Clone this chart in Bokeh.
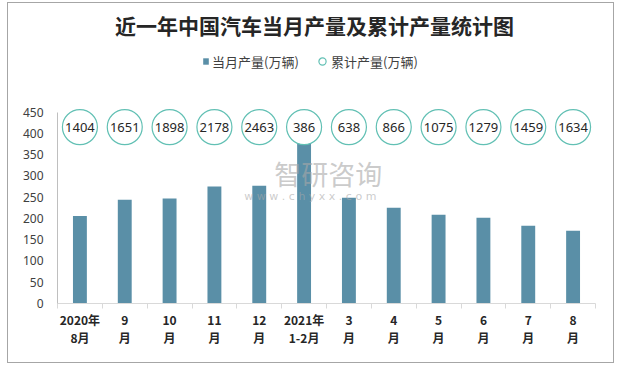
from bokeh.plotting import figure
from bokeh.models import (Range1d, FixedTicker, Legend, LegendItem, Label, ColumnDataSource)
from bokeh.core.properties import value
from bokeh.embed import file_html
from bokeh.resources import INLINE

# ---- data ----
months = ["2020年\n8月", "9\n月", "10\n月", "11\n月", "12\n月", "2021年\n1-2月",
          "3\n月", "4\n月", "5\n月", "6\n月", "7\n月", "8\n月"]
monthly = [206, 244, 247, 275, 277, 386, 249, 225, 209, 202, 183, 171]
cumulative = [1404, 1651, 1898, 2178, 2463, 386, 638, 866, 1075, 1279, 1459, 1634]
y_ticks = [0, 50, 100, 150, 200, 250, 300, 350, 400, 450]

# ---- styles ----
BAR = "#5a8fa7"
RING = "#62c0b4"
LABEL_Y = 415      # vertical position of the cumulative bubbles (axis units)
Y_MAX = 450        # top of the value axis
Y_VIEW = 705.8     # top of the drawing area (room for title/legend)
CJK = "Noto Sans CJK SC"

idx = list(range(len(months)))
src = ColumnDataSource(dict(x=idx, top=monthly, cum=[str(c) for c in cumulative],
                            ly=[LABEL_Y] * len(idx)))

p = figure(width=605, height=359, output_backend="svg", toolbar_location=None,
           x_range=Range1d(-0.5, len(months) - 0.5), y_range=Range1d(0, Y_VIEW),
           min_border_left=49, min_border_right=20, min_border_bottom=61, min_border_top=0)
p.styles = {"border": "1px solid #a6a6a6", "box-sizing": "content-box",
            "margin-left": "7px", "margin-top": "2px"}
p.outline_line_color = None
p.background_fill_color = "white"
p.border_fill_color = "white"
p.grid.visible = False

# title
p.add_layout(Label(x=5.23, y=656, text="近一年中国汽车当月产量及累计产量统计图", text_font=CJK,
                   text_font_size="21px", text_font_style="bold", text_color="#262626",
                   text_align="center", text_baseline="middle"))

# watermark
p.add_layout(Label(x=5.54, y=306, text="智研咨询", text_font=CJK, text_font_size="27px",
                   text_color="#a8a8a8", text_alpha=0.6, text_align="center", text_baseline="middle"))
p.add_layout(Label(x=5.14, y=251, text="w w w . c h y x x . c o m", text_font="DejaVu Sans",
                   text_font_size="11px", text_color="#a8a8a8", text_alpha=0.6,
                   text_align="center", text_baseline="middle"))

bars = p.vbar(x="x", top="top", width=0.31, source=src, fill_color=BAR, line_color=None)
rings = p.scatter(x="x", y="ly", source=src, marker="circle", size=35,
                  fill_color="white", line_color=RING, line_width=1.2)
p.text(x="x", y="ly", text="cum", source=src, text_align="center", text_baseline="middle",
       text_font=value("Noto Sans"), text_font_size="13px", text_color="#262626")

# axes
xa = p.xaxis[0]
xa.ticker = FixedTicker(ticks=idx, minor_ticks=[i - 0.5 for i in range(len(idx) + 1)])
xa.major_label_overrides = {i: m for i, m in enumerate(months)}
xa.major_tick_line_color = None
xa.major_tick_in = 0
xa.major_tick_out = 0
xa.minor_tick_line_color = "#d9d9d9"
xa.minor_tick_in = 0
xa.minor_tick_out = 5
xa.axis_line_color = "#d9d9d9"
xa.major_label_text_font = CJK
xa.major_label_text_font_style = "bold"
xa.major_label_text_font_size = "12px"
xa.major_label_text_color = "#262626"
xa.major_label_standoff = 2
xa.major_label_text_line_height = 1.1

ya = p.yaxis[0]
ya.ticker = FixedTicker(ticks=y_ticks)
ya.bounds = (0, Y_MAX)
ya.major_tick_line_color = None
ya.major_tick_in = 0
ya.major_tick_out = 0
ya.minor_tick_line_color = None
ya.axis_line_color = "#bfbfbf"
ya.major_label_text_font = "Noto Sans"
ya.major_label_text_font_size = "12px"
ya.major_label_text_color = "#404040"
ya.major_label_standoff = 14

# legends (two, so each glyph gets its own size)
common = dict(orientation="horizontal", label_text_font=CJK, label_text_font_size="13px",
              label_text_color="#404040", label_height=20, border_line_color=None,
              background_fill_alpha=0, margin=0, padding=4)
leg_a = Legend(items=[LegendItem(label="当月产量(万辆)", renderers=[bars])],
               location=(145, 232), glyph_width=7, glyph_height=8, label_standoff=3, **common)
leg_b = Legend(items=[LegendItem(label="累计产量(万辆)", renderers=[rings])],
               location=(256, 232), glyph_width=18, glyph_height=18, label_standoff=0, **common)
p.add_layout(leg_a)
p.add_layout(leg_b)

open("out.html", "w").write(file_html(p, INLINE))
